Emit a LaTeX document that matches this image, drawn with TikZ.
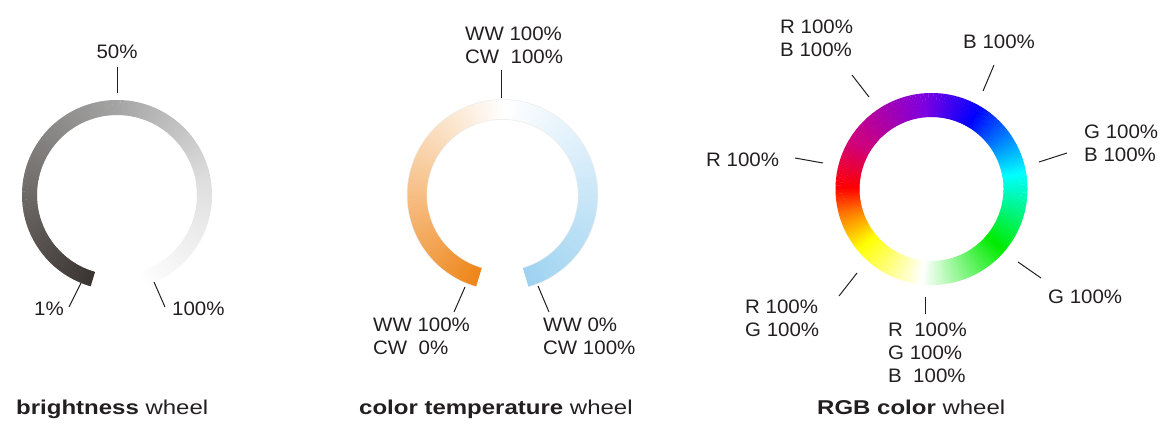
\documentclass[tikz,border=0pt]{standalone}
\usepackage{fontspec}
\setmainfont{Liberation Sans}
\newfontfamily\lblfont[FakeStretch=1.05]{Liberation Sans}
\newfontfamily\ttlfont[FakeStretch=1.2]{Liberation Sans}
\usetikzlibrary{positioning}

\definecolor{txt}{RGB}{35,31,32}
\definecolor{brA}{RGB}{58,52,50}
\definecolor{brB}{RGB}{110,106,104}
\definecolor{brC}{RGB}{165,165,165}
\definecolor{brD}{RGB}{222,222,222}
\definecolor{ctO}{RGB}{238,133,24}
\definecolor{ctP}{RGB}{243,166,86}
\definecolor{ctB}{RGB}{157,210,241}
\definecolor{rgbR}{RGB}{255,0,0}
\definecolor{rgbM}{RGB}{208,0,122}
\definecolor{rgbV}{RGB}{125,0,225}
\definecolor{rgbB}{RGB}{0,0,255}
\definecolor{rgbC}{RGB}{0,255,255}
\definecolor{rgbG}{RGB}{0,235,0}
\definecolor{rgbY}{RGB}{255,255,0}
\definecolor{rgbO}{RGB}{255,128,0}

\tikzset{
  lbl/.style={font=\lblfont\fontsize{19.5}{23}\selectfont,text=txt,inner sep=0pt,align=left},
  ttl/.style={font=\ttlfont\fontsize{20}{24}\selectfont,text=txt,inner sep=0pt,anchor=base west},
  lead/.style={draw=txt,line width=1pt}
}

\begin{document}
\begin{tikzpicture}[x=1pt,y=1pt]
  \useasboundingbox (0,0) rectangle (1169,-434);
  \coordinate (brc) at (117,-195);
  \coordinate (ctc) at (502.5,-195);
  \coordinate (rgbc) at (931.5,-189);

  % brightness wheel
  \foreach \sa/\ea/\ca/\cb in {254/180/brA/brB,180/90/brB/brC,90/10/brC/brD,10/-74/brD/white}{
    \pgfmathtruncatemacro\n{\sa-(\ea)-1}
    \foreach \k in {0,...,\n}{
      \pgfmathtruncatemacro\t{100*\k/(\sa-(\ea))}
      \pgfmathsetmacro\a{\sa-\k}
      \draw[line width=15pt,color=\cb!\t!\ca] (brc) ++(\a:87.5pt)
        arc[start angle=\a,end angle=\a-1.3,radius=87.5pt];
    }
  }
  \node[lbl,anchor=north] (l50) at (117,-45) {50\%};
  \node[lbl,anchor=north] (l1) at (49,-302) {1\%};
  \node[lbl,anchor=north west] (l100) at (172,-302) {100\%};
  \coordinate (p50a) at (117,-67); \coordinate (p50b) at (117,-93);
  \coordinate (p1a) at (81,-283); \coordinate (p1b) at (69,-307);
  \coordinate (p100a) at (154,-282); \coordinate (p100b) at (165,-307);
  \draw[lead] (p50a) -- (p50b);
  \draw[lead] (p1a) -- (p1b);
  \draw[lead] (p100a) -- (p100b);
  \node[ttl] (tbr) at (16,-414) {\textbf{brightness} wheel};

  % color temperature wheel
  \draw[line width=20.5pt,gray!14] (ctc) ++(254:85.5pt)
    arc[start angle=254,end angle=-74,radius=85.5pt];
  \foreach \sa/\ea/\ca/\cb in {254/215/ctO/ctP,215/90/ctP/white,90/-74/white/ctB}{
    \pgfmathtruncatemacro\n{\sa-(\ea)-1}
    \foreach \k in {0,...,\n}{
      \pgfmathtruncatemacro\t{100*\k/(\sa-(\ea))}
      \pgfmathsetmacro\a{\sa-\k}
      \draw[line width=19pt,color=\cb!\t!\ca] (ctc) ++(\a:85.5pt)
        arc[start angle=\a,end angle=\a-1.3,radius=85.5pt];
    }
  }
  \node[lbl,anchor=north west] (ltop) at (465,-27) {WW 100\%\\CW\ \ 100\%};
  \node[lbl,anchor=north west] (lww) at (373,-318) {WW 100\%\\CW\ \ 0\%};
  \node[lbl,anchor=north west] (lcw) at (543,-318) {WW 0\%\\CW 100\%};
  \coordinate (ptopa) at (501,-70); \coordinate (ptopb) at (501,-98);
  \coordinate (pwwa) at (465,-287); \coordinate (pwwb) at (454,-312);
  \coordinate (pcwa) at (538,-286); \coordinate (pcwb) at (549,-312);
  \draw[lead] (ptopa) -- (ptopb);
  \draw[lead] (pwwa) -- (pwwb);
  \draw[lead] (pcwa) -- (pcwb);
  \node[ttl] (tct) at (359,-414) {\textbf{color temperature} wheel};

  % RGB color wheel
  \foreach \sa/\ea/\ca/\cb in {180/150/rgbR/rgbM,150/95/rgbM/rgbV,95/60/rgbV/rgbB,
      60/10/rgbB/rgbC,10/-40/rgbC/rgbG,-40/-95/rgbG/white,-95/-140/white/rgbY,
      -140/-162/rgbY/rgbO,-162/-180/rgbO/rgbR}{
    \pgfmathtruncatemacro\n{\sa-(\ea)-1}
    \foreach \k in {0,...,\n}{
      \pgfmathtruncatemacro\t{100*\k/(\sa-(\ea))}
      \pgfmathsetmacro\a{\sa-\k}
      \draw[line width=24pt,color=\cb!\t!\ca] (rgbc) ++(\a:84pt)
        arc[start angle=\a,end angle=\a-1.3,radius=84pt];
    }
  }
  \node[lbl,anchor=north west] (lrb) at (780,-20) {R 100\%\\B 100\%};
  \node[lbl,anchor=north west] (lb) at (963,-35) {B 100\%};
  \node[lbl,anchor=north west] (lgb) at (1084,-125) {G 100\%\\B 100\%};
  \node[lbl,anchor=north west] (lr) at (706,-153) {R 100\%};
  \node[lbl,anchor=north west] (lg) at (1048,-290) {G 100\%};
  \node[lbl,anchor=north west] (lrg) at (745,-300) {R 100\%\\G 100\%};
  \node[lbl,anchor=north west] (lrgb) at (888,-323) {R\ \ 100\%\\G 100\%\\B\ \ 100\%};
  \coordinate (prba) at (852,-75); \coordinate (prbb) at (869,-97);
  \coordinate (pba) at (994,-65); \coordinate (pbb) at (983,-91);
  \coordinate (pgba) at (1067,-153); \coordinate (pgbb) at (1039,-162);
  \coordinate (pra) at (795,-158); \coordinate (prb) at (823,-163);
  \coordinate (pga) at (1018,-262); \coordinate (pgb) at (1041,-278);
  \coordinate (prga) at (857,-273); \coordinate (prgb) at (839,-296);
  \coordinate (prgba) at (925,-297); \coordinate (prgbb) at (925,-314);
  \draw[lead] (prba) -- (prbb);
  \draw[lead] (pba) -- (pbb);
  \draw[lead] (pgba) -- (pgbb);
  \draw[lead] (pra) -- (prb);
  \draw[lead] (pga) -- (pgb);
  \draw[lead] (prga) -- (prgb);
  \draw[lead] (prgba) -- (prgbb);
  \node[ttl] (trgb) at (817,-414) {\textbf{RGB color} wheel};
\end{tikzpicture}
\end{document}
